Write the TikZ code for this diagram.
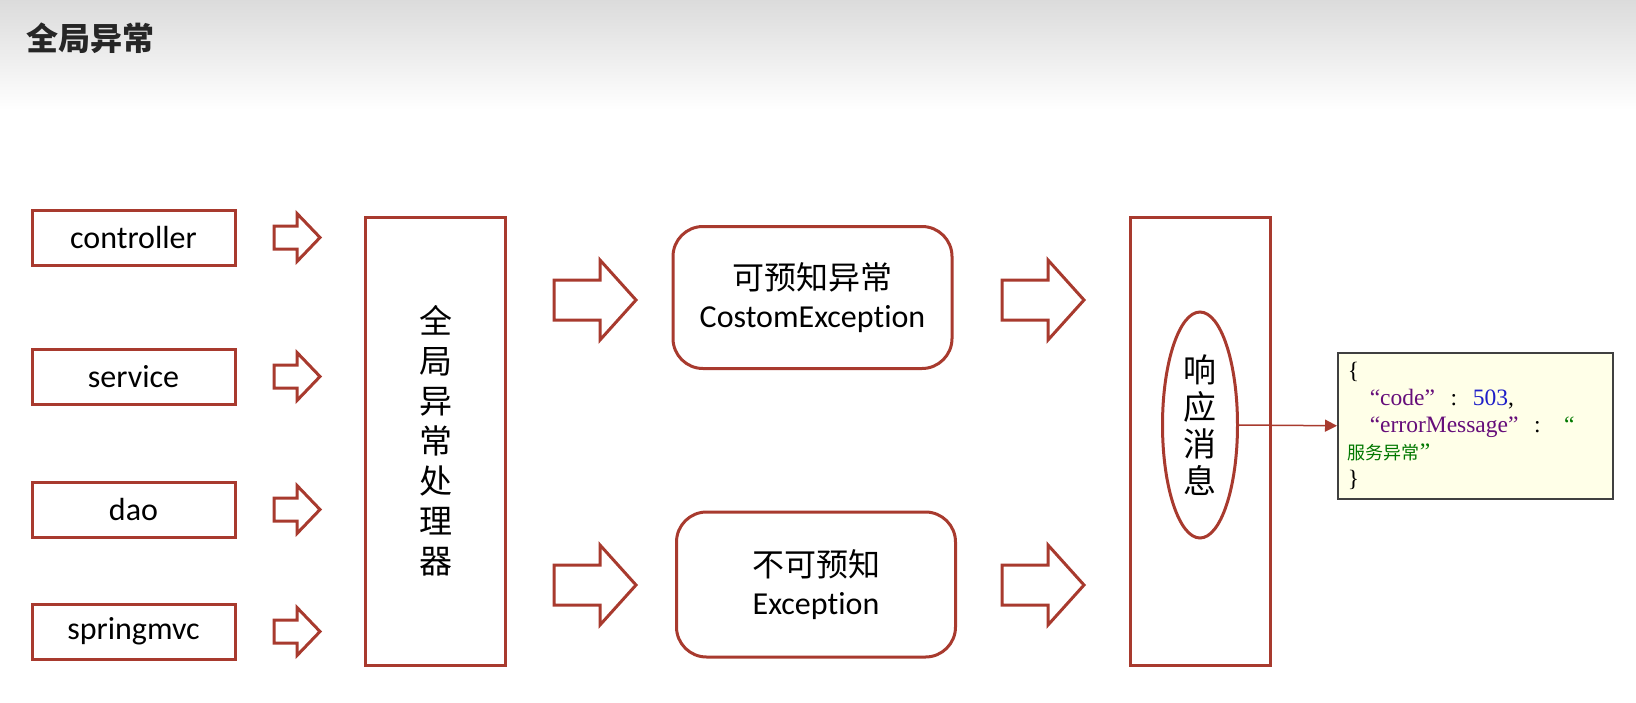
\documentclass[tikz,border=0pt]{standalone}
\usepackage{fontspec}
\setmainfont{Carlito}[Ligatures=NoCommon]
\newfontfamily\cjk{Noto Sans CJK SC}
\newfontfamily\jsonfont{Liberation Serif}
\usetikzlibrary{shapes.geometric,arrows.meta}

\definecolor{brick}{RGB}{168,58,46}
\definecolor{jsonbg}{RGB}{255,255,232}
\definecolor{jsonkey}{RGB}{102,14,122}
\definecolor{jsonnum}{RGB}{30,30,200}
\definecolor{jsonstr}{RGB}{0,120,0}

\newcommand{\jkey}[1]{\textcolor{jsonkey}{#1}}
\newcommand{\jnum}[1]{\textcolor{jsonnum}{#1}}
\newcommand{\jstr}[1]{\textcolor{jsonstr}{#1}}

\tikzset{
  layer/.style={draw=brick, line width=3pt, minimum width=203pt, minimum height=55pt,
    font=\fontsize{32}{38}\selectfont, inner sep=0pt},
  tallbox/.style={draw=brick, line width=3pt, minimum width=140pt, minimum height=448pt,
    align=center, font=\cjk\fontsize{33}{40}\selectfont},
  excbox/.style={draw=brick, line width=3pt, rounded corners=30pt, minimum width=279pt,
    minimum height=142pt, align=center, font=\fontsize{32}{38}\selectfont},
  blockline/.style={draw=brick, line width=3pt, fill=white, line join=miter},
  pics/bigarrow/.style={code={
    \draw[blockline] (0,-20) -- (46,-20) -- (46,-40) -- (82,0) -- (46,40) -- (46,20) -- (0,20) -- cycle;}},
  pics/smallarrow/.style={code={
    \draw[blockline] (0,-11.5) -- (23,-11.5) -- (23,-24) -- (46,0) -- (23,24) -- (23,11.5) -- (0,11.5) -- cycle;}}
}

\begin{document}
\begin{tikzpicture}[x=1pt, y=-1pt]
    \useasboundingbox (0,0) rectangle (1636,702);
    \shade[top color=black!14, bottom color=white] (0,0) rectangle (1636,110);
    \node[font=\cjk\bfseries\fontsize{32}{38}\selectfont, text=black!85] (title) at (91,38) {全局异常};

    % layers
    \node[layer] (ctrl) at (133.5,237.5) {controller};
    \node[layer] (serv) at (133.5,376.5) {service};
    \node[layer] (dao)  at (133.5,509.5) {dao};
    \node[layer] (mvc)  at (133.5,631.5) {springmvc};

    \pic (a1) at (274,237.5) {smallarrow};
    \pic (a2) at (274,376.5) {smallarrow};
    \pic (a3) at (274,509.5) {smallarrow};
    \pic (a4) at (274,631.5) {smallarrow};

    \node[tallbox] (handler) at (435.5,441) {全\\局\\异\\常\\处\\理\\器};

    \pic (b1) at (554,300) {bigarrow};
    \pic (b2) at (554,585) {bigarrow};

    \node[excbox] (known)   at (812.5,297.5) {{\cjk 可预知异常}\\CostomException};
    \node[excbox, minimum height=145pt] (unknown) at (816,584.5) {{\cjk 不可预知}\\Exception};

    \pic (c1) at (1002,300) {bigarrow};
    \pic (c2) at (1002,585) {bigarrow};

    \node[tallbox, font=\fontsize{33}{40}\selectfont] (resp) at (1200.5,441) {};
    \node[draw=brick, line width=3pt, ellipse, minimum width=75pt, minimum height=226pt, inner sep=0pt,
      align=center, font=\cjk\fontsize{33}{37}\selectfont] (msg) at (1200,425) {响\\应\\消\\息};

    \node[draw=black!75, line width=1.5pt, fill=jsonbg, anchor=north west, minimum width=275pt,
      minimum height=146pt, text width=255pt, inner xsep=10pt, align=left,
      font=\jsonfont\fontsize{23.5}{27}\selectfont] (json) at (1337,352)
      {\{\\
       \hspace*{22pt}\jkey{“code”}\ \ :\ \ \jnum{503},\\
       \hspace*{22pt}\jkey{“errorMessage”}\ \ :\ \ \ \jstr{“}\\
       \jstr{{\cjk\fontsize{18}{27}\selectfont 服务异常}”}\\
       \}};

    \draw[brick, line width=1.5pt, -{Triangle[length=12pt, width=12pt]}] (msg.east) -- (json.west);

  \end{tikzpicture}
\end{document}
